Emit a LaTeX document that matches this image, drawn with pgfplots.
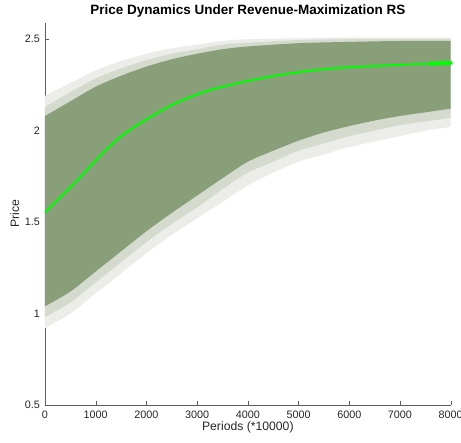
\documentclass[border=0pt]{standalone}
\usepackage{pgfplots}
\pgfplotsset{compat=1.18}
\usepgfplotslibrary{fillbetween}
\usepackage{fontspec}
\setmainfont{Liberation Sans}
\definecolor{bandgreen}{RGB}{137,159,121}
\definecolor{fringeout}{RGB}{236,237,233}
\definecolor{fringein}{RGB}{212,218,206}
\definecolor{axgrey}{RGB}{38,38,38}

\begin{document}
\begin{tikzpicture}
\begin{axis}[
  scale only axis,
  width=405.7pt, height=382.3pt,
  xmin=0, xmax=8000, ymin=0.5, ymax=2.59,
  axis x line*=bottom, axis y line*=left,
  axis line style={-, color=axgrey!75},
  tick align=inside,
  major tick length=4pt,
  tick style={color=axgrey!75},
  xtick={0,1000,...,8000},
  ytick={0.5,1,1.5,2,2.5},
  yticklabels={0.5,1,1.5,2,2.5},
  scaled x ticks=false,
  /pgf/number format/assume math mode=true,
  x tick label style={/pgf/number format/1000 sep={}, anchor=base, yshift=-13.5pt},
  y tick label style={xshift=-1.5pt},
  tick label style={font=\fontsize{10.8}{12}\selectfont, color=axgrey},
  title={\textbf{Price Dynamics Under Revenue-Maximization RS}},
  title style={at={(axis description cs:0.5,1.007)}, anchor=base, font=\fontsize{13.5}{15}\selectfont},
  xlabel={Periods (*10000)},
  xlabel style={at={(axis description cs:0.5,-0.067)}, anchor=base, font=\fontsize{12.2}{14}\selectfont, color=axgrey},
  ylabel={Price},
  ylabel style={at={(axis description cs:-0.064,0.5)}, anchor=base, font=\fontsize{12.2}{14}\selectfont, color=axgrey},
  clip=false,
]
% outer fringe of the simulated paths (sparse spikes)
\addplot[name path=fu, draw=none, smooth] coordinates {
  (0,2.19) (500,2.26) (1000,2.33) (1500,2.38) (2000,2.42) (2500,2.45)
  (3000,2.47) (3500,2.49) (4000,2.50) (5000,2.505) (6000,2.51) (7000,2.51) (8000,2.51)};
\addplot[name path=fl, draw=none, smooth] coordinates {
  (0,0.92) (500,1.00) (1000,1.11) (1500,1.22) (2000,1.33) (2500,1.43)
  (3000,1.52) (3500,1.61) (4000,1.70) (4500,1.77) (5000,1.83) (5500,1.87)
  (6000,1.91) (6500,1.94) (7000,1.97) (7500,2.00) (8000,2.02)};
\addplot[fringeout] fill between[of=fu and fl];
% inner fringe
\addplot[name path=gu, draw=none, smooth] coordinates {
  (0,2.13) (500,2.21) (1000,2.285) (1500,2.34) (2000,2.385) (2500,2.42)
  (3000,2.445) (3500,2.47) (4000,2.48) (5000,2.495) (6000,2.50) (7000,2.50) (8000,2.50)};
\addplot[name path=gl, draw=none, smooth] coordinates {
  (0,0.98) (500,1.06) (1000,1.17) (1500,1.28) (2000,1.39) (2500,1.49)
  (3000,1.58) (3500,1.68) (4000,1.77) (4500,1.83) (5000,1.89) (5500,1.93)
  (6000,1.97) (6500,2.00) (7000,2.03) (7500,2.05) (8000,2.07)};
\addplot[fringein] fill between[of=gu and gl];
% dense band
\addplot[name path=bu, draw=none, smooth] coordinates {
  (0,2.08) (500,2.16) (1000,2.24) (1500,2.30) (2000,2.35) (2500,2.39)
  (3000,2.42) (3500,2.445) (4000,2.46) (5000,2.478) (6000,2.485) (7000,2.49) (8000,2.49)};
\addplot[name path=bl, draw=none, smooth] coordinates {
  (0,1.04) (500,1.12) (1000,1.23) (1500,1.34) (2000,1.45) (2500,1.55)
  (3000,1.645) (3500,1.74) (4000,1.83) (4500,1.89) (5000,1.945) (5500,1.99)
  (6000,2.025) (6500,2.055) (7000,2.08) (7500,2.10) (8000,2.12)};
\addplot[bandgreen] fill between[of=bu and bl];
% mean price
\addplot[color=green, line width=2pt, smooth] coordinates {
  (0,1.552) (296,1.634) (690,1.744) (1085,1.863) (1479,1.964) (1874,2.04)
  (2530,2.144) (3189,2.216) (3845,2.262) (4502,2.298) (5160,2.325)
  (5816,2.343) (6500,2.353) (7200,2.362) (8000,2.37)};
\addplot[color=green, line width=4pt, line cap=round] coordinates {
  (7600,2.366) (8000,2.37)};
\end{axis}
\pgfresetboundingbox
\path[use as bounding box] (-45pt,-38pt) rectangle (416pt,405pt);
\end{tikzpicture}
\end{document}
